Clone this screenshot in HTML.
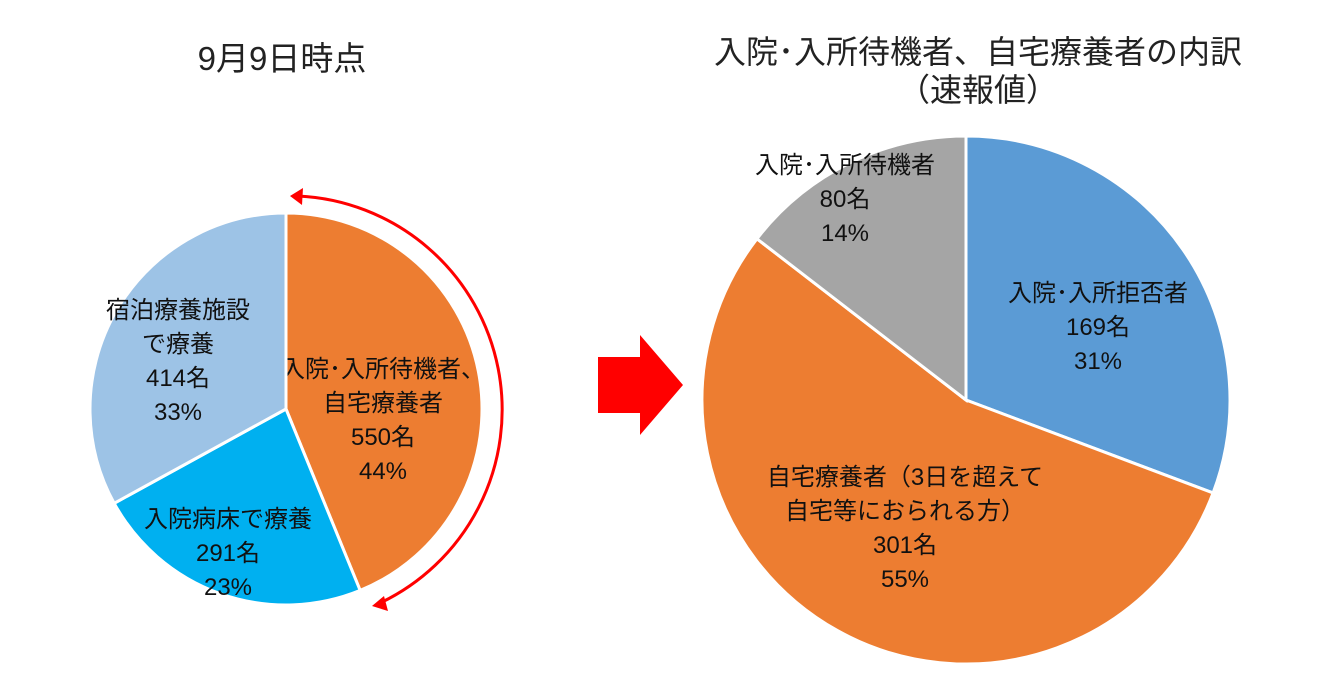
<!DOCTYPE html>
<html><head><meta charset="utf-8">
<style>
body{margin:0;background:#fff;}
svg{display:block;font-family:"Liberation Sans","Noto Sans CJK JP",sans-serif;}
</style></head>
<body>
<svg id="c" width="1321" height="684" viewBox="0 0 1321 684">
<text x="282" y="70" font-size="33" text-anchor="middle" fill="#222">9月9日時点</text>
<text x="978" y="63" font-size="32" text-anchor="middle" fill="#222">入院･入所待機者、自宅療養者の内訳</text>
<text x="978" y="101" font-size="32" text-anchor="middle" fill="#222">（速報値）</text>
<g id="left"></g>
<g id="right"></g>
<path d="M298 196 A214 214 0 0 1 378 604" fill="none" stroke="#f00" stroke-width="3"/>
<polygon points="290,196 303,188 302,205" fill="#f00"/>
<polygon points="372,606 384,596 388,611" fill="#f00"/>
<polygon points="598,357 640,357 640,335 683,385 640,435 640,413 598,413" fill="#f00"/>
</svg>
<script>
const leftCats=[["入院･入所待機者、","自宅療養者"],["入院病床で療養"],["宿泊療養施設","で療養"]];
const leftVals=[550,291,414];
const leftPcts=["44%","23%","33%"];
const leftColors=["#ED7D31","#00B0F0","#9DC3E6"];
const rightCats=[["入院･入所拒否者"],["自宅療養者（3日を超えて","自宅等におられる方）"],["入院･入所待機者"]];
const rightVals=[169,301,80];
const rightPcts=["31%","55%","14%"];
const rightColors=["#5B9BD5","#ED7D31","#A5A5A5"];
const NS="http://www.w3.org/2000/svg";
function pie(gid,cats,vals,pcts,colors,cx,cy,r,anchors){
  const g=document.getElementById(gid);
  const tot=vals.reduce((a,b)=>a+b,0);
  let a0=-Math.PI/2;
  vals.forEach((v,i)=>{
    const a1=a0+v/tot*2*Math.PI;
    const x0=cx+r*Math.cos(a0),y0=cy+r*Math.sin(a0),x1=cx+r*Math.cos(a1),y1=cy+r*Math.sin(a1);
    const p=document.createElementNS(NS,"path");
    p.setAttribute("d",`M${cx} ${cy} L${x0} ${y0} A${r} ${r} 0 ${a1-a0>Math.PI?1:0} 1 ${x1} ${y1} Z`);
    p.setAttribute("fill",colors[i]);p.setAttribute("stroke","#fff");p.setAttribute("stroke-width","3");
    
    
    g.appendChild(p);
    const lines=[...cats[i],vals[i]+"名",pcts[i]];
    const lx=anchors[i][0], ly=anchors[i][1]-(lines.length-1)*17;
    const t=document.createElementNS(NS,"text");
    t.setAttribute("text-anchor","middle");t.setAttribute("font-size","24");t.setAttribute("fill","#111");
    
    
    lines.forEach((s,k)=>{const ts=document.createElementNS(NS,"tspan");ts.setAttribute("x",lx);ts.setAttribute("y",ly+k*34+8);ts.textContent=s;t.appendChild(ts);});
    g.appendChild(t);
    a0=a1;
  });
}
pie("left",leftCats,leftVals,leftPcts,leftColors,286,409,196,[[383,420],[228,553],[178,361]]);
pie("right",rightCats,rightVals,rightPcts,rightColors,966,400,264,[[1098,327],[905,528],[845,199]]);
</script>
</body></html>
